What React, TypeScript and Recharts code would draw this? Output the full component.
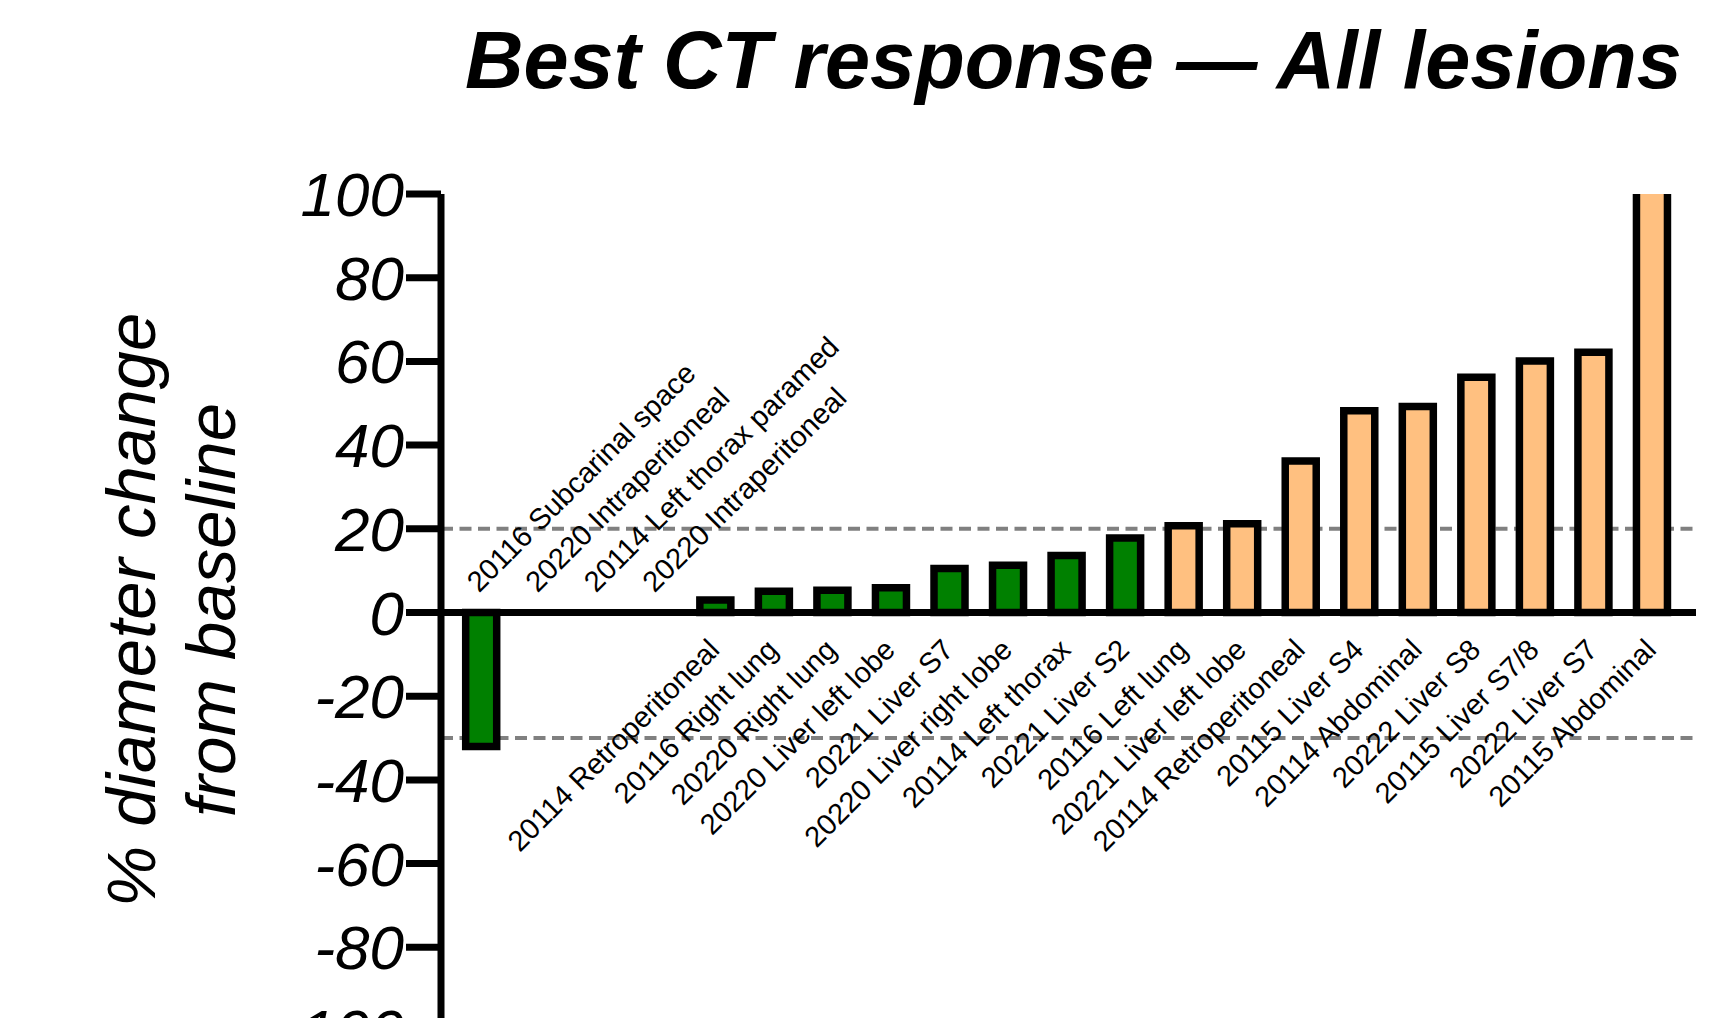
import React from "react";
import { Bar, BarChart, Cell, ReferenceLine, XAxis, YAxis, Label } from "recharts";

// lesion labels, left to right
const lesions = [
  "20116 Subcarinal space",
  "20220 Intraperitoneal",
  "20114 Left thorax paramed",
  "20220 Intraperitoneal",
  "20114 Retroperitoneal",
  "20116 Right lung",
  "20220 Right lung",
  "20220 Liver left lobe",
  "20221 Liver S7",
  "20220 Liver right lobe",
  "20114 Left thorax",
  "20221 Liver S2",
  "20116 Left lung",
  "20221 Liver left lobe",
  "20114 Retroperitoneal",
  "20115 Liver S4",
  "20114 Abdominal",
  "20222 Liver S8",
  "20115 Liver S7/8",
  "20222 Liver S7",
  "20115 Abdominal",
];

// best % change in diameter from baseline
const change = [
  -32, 0, 0, 0, 3.0, 5.1, 5.3, 5.9, 10.5, 11.3, 13.6, 17.8, 20.7, 21.2, 36.2, 48.2, 49.2, 56.2, 60.1,
  62.2, 120,
];

const yTicks = [-100, -80, -60, -40, -20, 0, 20, 40, 60, 80, 100];
const yDomain = [-100, 100];
const cutoffs = [20, -30];

const data = lesions.map((name, i) => ({ name, change: change[i] }));

const FONT = "'Liberation Sans', Arial, Helvetica, sans-serif";
const GREEN = "#008000";
const ORANGE = "#FFC080";

const CHART_W = 1709;
const CHART_H = 1100;
const M_TOP = 194;
const M_BOTTOM = 68;
const XAXIS_H = 1;
const PLOT_H = CHART_H - M_TOP - M_BOTTOM - XAXIS_H;

// category labels hang off the zero line: below it for growing lesions, above it otherwise
const LesionTick = (props: any) => {
  const { x, y, payload } = props;
  const i = payload.index;
  const v = change[i];
  // the x axis sits at the bottom of the plot (value -100); walk up to 0
  const zero = y - (PLOT_H * (0 - yDomain[0])) / (yDomain[1] - yDomain[0]);
  const up = v > 0;
  const ax = up ? x + 6 : x - 2;
  const ay = up ? zero + 39 : zero - 19;
  return (
    <text
      x={ax}
      y={ay}
      transform={`rotate(-45 ${ax} ${ay})`}
      textAnchor={up ? "end" : "start"}
      fontSize={29}
      fontFamily={FONT}
      fill="#000"
    >
      {lesions[i]}
    </text>
  );
};

const AxisTitle = () => (
  <g>
    <text x={155} y={610} transform="rotate(-90 155 610)" textAnchor="middle" fontSize={69} fontStyle="italic" fontFamily={FONT} fill="#000">
      % diameter change
    </text>
    <text x={235} y={610} transform="rotate(-90 235 610)" textAnchor="middle" fontSize={69} fontStyle="italic" fontFamily={FONT} fill="#000">
      from baseline
    </text>
  </g>
);

export default function App() {
  return (
    <div style={{ position: "relative", width: CHART_W, height: 1018, overflow: "hidden", background: "#fff" }}>
      <style>{`body { margin: 0; overflow: hidden; }`}</style>
      <div
        style={{
          position: "absolute",
          left: 465,
          top: 20,
          fontFamily: FONT,
          fontSize: 81,
          lineHeight: 1,
          fontWeight: "bold",
          fontStyle: "italic",
          whiteSpace: "nowrap",
          color: "#000",
        }}
      >
        Best CT response — All lesions
      </div>
      <BarChart
        width={CHART_W}
        height={CHART_H}
        data={data}
        margin={{ top: M_TOP, right: 13, bottom: M_BOTTOM, left: 0 }}
        barCategoryGap={0}
      >
        <XAxis
          dataKey="name"
          type="category"
          height={XAXIS_H}
          interval={0}
          axisLine={false}
          tickLine={false}
          tickSize={0}
          tickMargin={0}
          tick={<LesionTick />}
          padding={{ left: 10.7, right: 15 }}
        />
        <YAxis
          domain={yDomain}
          ticks={yTicks}
          interval={0}
          allowDataOverflow
          width={441}
          tickSize={35}
          tickMargin={2}
          axisLine={{ stroke: "#000", strokeWidth: 7 }}
          tickLine={{ stroke: "#000", strokeWidth: 7 }}
          tick={{ fontSize: 62, fontStyle: "italic", fontFamily: FONT, fill: "#000" }}
        >
          <Label content={<AxisTitle />} />
        </YAxis>
        {cutoffs.map((c) => (
          <ReferenceLine key={c} y={c} stroke="#808080" strokeWidth={4} strokeDasharray="12 6.5" zIndex={0} />
        ))}
        <Bar dataKey="change" barSize={31} stroke="#000" strokeWidth={7.5} isAnimationActive={false}>
          {change.map((v, i) => (
            <Cell key={i} fill={v > 20 ? ORANGE : GREEN} />
          ))}
        </Bar>
        <ReferenceLine y={0} stroke="#000" strokeWidth={7} />
      </BarChart>
    </div>
  );
}
